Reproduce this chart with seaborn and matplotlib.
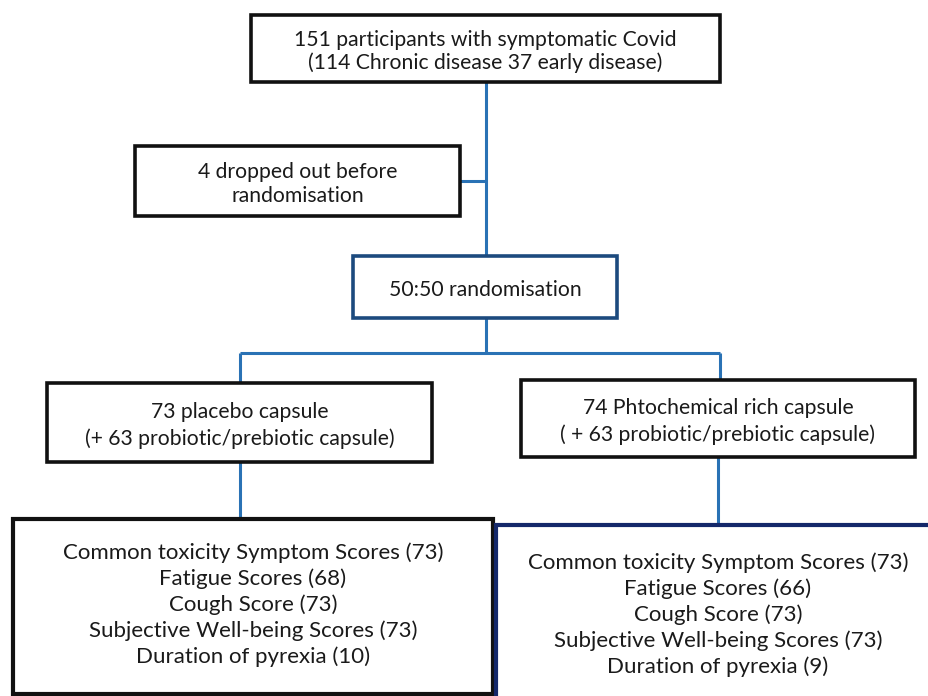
"""
CONSORT-style flow diagram of the Covid capsule trial.
Boxes and connectors drawn on a pixel-scaled axes (0..929 x 0..696).
"""

import matplotlib.pyplot as plt
import matplotlib.patches as mpatches
import seaborn as sns

# =============================================================================
# DATA
# =============================================================================
screening_text = ["151 participants with symptomatic Covid",
                  "(114 Chronic disease 37 early disease)"]
dropout_text = ["4 dropped out before", "randomisation"]
random_text = ["50:50 randomisation"]
placebo_text = ["73 placebo capsule", "(+ 63 probiotic/prebiotic capsule)"]
active_text = ["74 Phtochemical rich capsule", "( + 63 probiotic/prebiotic capsule)"]

outcome_labels = ["Common toxicity Symptom Scores", "Fatigue Scores", "Cough Score",
                  "Subjective Well-being Scores", "Duration of pyrexia"]
placebo_counts = [73, 68, 73, 73, 10]
active_counts = [73, 66, 73, 73, 9]

# =============================================================================
# STYLE
# =============================================================================
sns.set_theme(style="white")
plt.rcParams['font.family'] = ['Lato', 'DejaVu Sans']

BLACK = "#111111"
NAVY = "#1c4a7e"
DARK_NAVY = "#14286a"
LINE_BLUE = "#2a72b5"
TEXT = "#1a1a1a"

fig = plt.figure(figsize=(9.29, 6.96), dpi=100)
ax = fig.add_axes([0, 0, 1, 1])
ax.set_xlim(0, 929)
ax.set_ylim(696, 0)
ax.axis("off")


def draw_box(x0, y0, x1, y1, lines, edge, size, spacing, lw=2.6, y_text=None):
    ax.add_patch(mpatches.Rectangle((x0, y0), x1 - x0, y1 - y0, fill=True,
                                    facecolor="white", edgecolor=edge, lw=lw, zorder=3))
    cx = (x0 + x1) / 2
    # small downward nudge so the glyphs sit like the original layout
    start = y_text if y_text is not None else (y0 + y1) / 2 - spacing * (len(lines) - 1) / 2 + 3
    for i, line in enumerate(lines):
        ax.text(cx, start + i * spacing, line, ha="center", va="center",
                fontsize=size, color=TEXT, zorder=4)


def connector(xs, ys):
    ax.plot(xs, ys, color=LINE_BLUE, lw=2.2, solid_capstyle="butt", zorder=2)


# connectors
connector([486, 486], [82, 256])
connector([460, 486], [181, 181])
connector([486, 486], [318, 353])
connector([240, 720], [353, 353])
connector([240, 240], [353, 383])
connector([720, 720], [353, 380])
connector([240, 240], [462, 519])
connector([718, 718], [457, 525])

# boxes
draw_box(251, 15, 720, 82, screening_text, BLACK, 15.2, 23)
draw_box(135, 146, 460, 216, dropout_text, BLACK, 15.2, 25)
draw_box(353, 256, 617, 318, random_text, NAVY, 15.2, 0)
draw_box(47, 383, 432, 462, placebo_text, BLACK, 15.2, 27)
draw_box(521, 380, 915, 457, active_text, BLACK, 15.2, 27)

placebo_lines = [f"{lab} ({n})" for lab, n in zip(outcome_labels, placebo_counts)]
active_lines = [f"{lab} ({n})" for lab, n in zip(outcome_labels, active_counts)]
draw_box(13, 519, 493, 694, placebo_lines, BLACK, 16, 26, lw=3, y_text=553)
draw_box(496, 525, 940, 700, active_lines, DARK_NAVY, 16, 26, lw=3, y_text=563)

fig.savefig("out.png", dpi=100, facecolor="white")
